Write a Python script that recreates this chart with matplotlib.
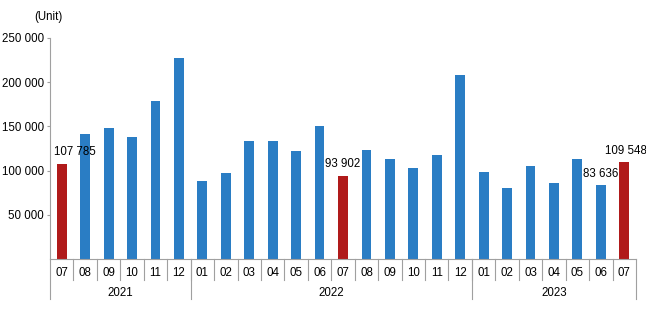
import numpy as np
import matplotlib
matplotlib.use("Agg")
from matplotlib import pyplot as plt

plt.rcParams['font.family'] = ['Liberation Sans', 'DejaVu Sans']

months = ["07", "08", "09", "10", "11", "12",
          "01", "02", "03", "04", "05", "06", "07", "08", "09", "10", "11", "12",
          "01", "02", "03", "04", "05", "06", "07"]
years = ["2021", "2022", "2023"]
year_sizes = [6, 12, 7]
values = [107785, 141000, 148000, 138000, 179000, 227000,
          88000, 97000, 134000, 133000, 122500, 150000, 93902, 123600, 113500, 102500, 117500, 208500,
          98000, 80000, 105000, 85800, 113500, 83636, 109548]
highlight = [0, 12, 24]
labelled = {0: "107 785", 12: "93 902", 23: "83 636", 24: "109 548"}

blue = "#2A7DC4"
red = "#B01A1A"
grey = "#A0A0A0"
fs = 8.3

fig = plt.figure(figsize=(6.46, 3.30), dpi=100)
ax = fig.add_axes([50/646, 71/330, 586/646, 221/330])

x = np.arange(len(values))
cols = [red if i in highlight else blue for i in x]
ax.bar(x, values, width=0.42, color=cols, zorder=2)

ax.set_xlim(-0.5, len(values) - 0.5)
ax.set_ylim(0, 250000)
ax.set_yticks([50000, 100000, 150000, 200000, 250000])
ax.set_yticklabels(["50 000", "100 000", "150 000", "200 000", "250 000"], fontsize=fs)
ax.tick_params(axis='y', length=2.5, color=grey, pad=2)
ax.set_xticks([])
for s in ["top", "right"]:
    ax.spines[s].set_visible(False)
ax.spines["left"].set_color(grey)
ax.spines["bottom"].set_color(grey)

# value labels
offsets = {0: (0.55, 4), 12: (0, 4), 23: (0, 4), 24: (0.05, 4)}
for i, txt in labelled.items():
    dx, dy = offsets[i]
    ax.annotate(txt, (i + dx, values[i]), xytext=(0, dy), textcoords="offset points",
                ha="center", va="bottom", fontsize=fs)

# category axis below
tr = ax.get_xaxis_transform()
for i, m in enumerate(months):
    ax.text(i, -0.062, m, transform=tr, ha="center", va="center", fontsize=fs)
for i in range(1, len(months)):
    ax.plot([i - 0.5, i - 0.5], [0, -0.095], transform=tr, color=grey, lw=0.8, clip_on=False)

start = 0
bounds = [0]
for name, n in zip(years, year_sizes):
    ax.text(start + n / 2 - 0.5, -0.155, name, transform=tr, ha="center", va="center", fontsize=fs)
    start += n
    bounds.append(start)
for b in bounds:
    ax.plot([b - 0.5, b - 0.5], [0, -0.18], transform=tr, color=grey, lw=0.8, clip_on=False)

fig.text(48/646, 1 - 17/330, "(Unit)", ha="center", va="center", fontsize=fs)

plt.savefig("out.png", dpi=100)
